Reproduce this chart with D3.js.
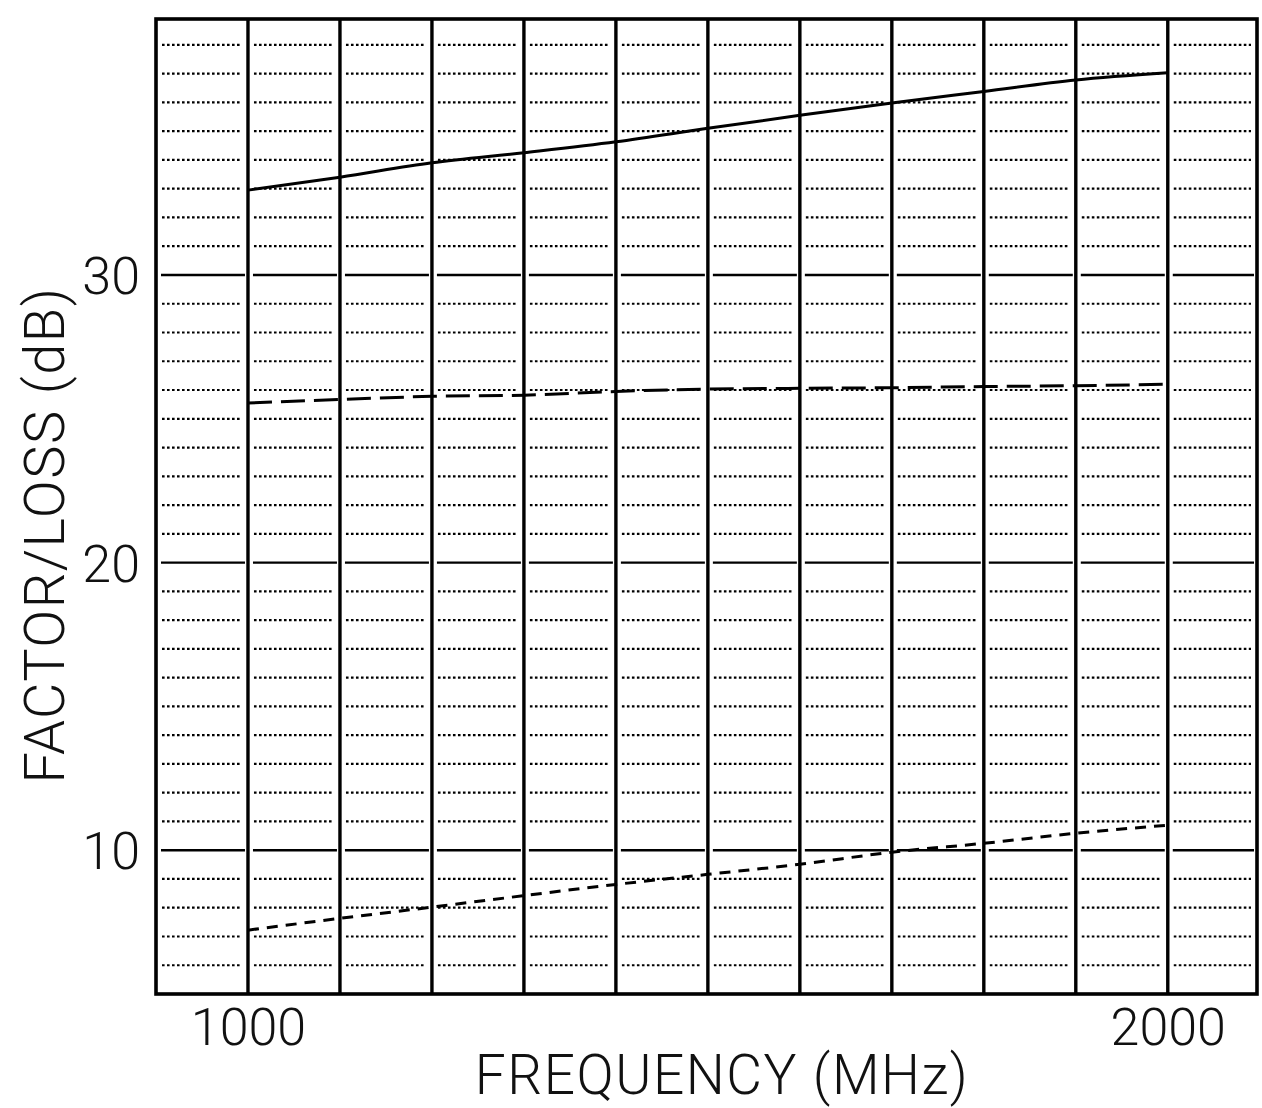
<!DOCTYPE html>
<html>
    <head>
        <meta charset="utf-8">
        <title>Factor / Loss vs Frequency</title>
        <script src="https://d3js.org/d3.v7.min.js"></script>
        <style>
            body { margin: 0; background: #fff; }
            text { font-family: Roboto, "Liberation Sans", Arial, sans-serif; font-weight: 300; fill: #111; }
        </style>
    </head>
    <body>
        <div id="chart">
            <script>
                // frequencies (MHz) of the vertical grid and of the curve samples
                var freqs = [1000, 1100, 1200, 1300, 1400, 1500, 1600, 1700, 1800, 1900, 2000]

                // curves (dB)
                var solidCurve = [32.95, 33.4, 33.9, 34.25, 34.63, 35.1, 35.55, 35.98, 36.38, 36.78, 37.03]
                var longDashCurve = [25.55, 25.67, 25.78, 25.82, 25.95, 26.03, 26.06, 26.08, 26.12, 26.15, 26.2]
                var shortDashCurve = [7.22, 7.63, 8.02, 8.42, 8.81, 9.16, 9.51, 9.93, 10.24, 10.59, 10.87]

                // horizontal grid (dB)
                var majorDb = [10, 20, 30]
                var minorDb = [6, 7, 8, 9, 11, 12, 13, 14, 15, 16, 17, 18, 19, 21, 22, 23, 24, 25, 26, 27, 28, 29,
                               31, 32, 33, 34, 35, 36, 37, 38]

                // tick labels
                var xTickValues = [1000, 2000]
                var yTickValues = [10, 20, 30]

                var margin = {top: 19, right: 5, bottom: 114, left: 156},
                    width = 1262 - margin.left - margin.right,
                    height = 1108 - margin.top - margin.bottom

                var svg = d3.select("#chart")
                .append("svg")
                    .attr("width", 1262)
                    .attr("height", 1108)
                .append("g")
                    .attr("transform", "translate(" + margin.left + "," + margin.top + ")")

                var x = d3.scaleLinear()
                    .domain([900, 2097])
                    .range([0, width])

                var y = d3.scaleLinear()
                    .domain([5, 38.9])
                    .range([height, 0])

                // cell edges so the horizontal lines are drawn one cell at a time, like the plotter did
                var edges = [x.domain()[0]].concat(freqs).concat([x.domain()[1]])
                var cells = d3.pairs(edges)

                function cellSegments(values) {
                    var segs = []
                    values.forEach(function (v) {
                        cells.forEach(function (c) { segs.push({v: v, a: c[0], b: c[1]}) })
                    })
                    return segs
                }

                // dotted 1 dB lines
                svg.append("g")
                    .selectAll("line")
                    .data(cellSegments(minorDb))
                    .join("line")
                        .attr("x1", function (d) { return x(d.a) + 6 })
                        .attr("x2", function (d) { return x(d.b) - 6 })
                        .attr("y1", function (d) { return y(d.v) })
                        .attr("y2", function (d) { return y(d.v) })
                        .style("stroke", "#000")
                        .style("stroke-width", 2.2)
                        .style("stroke-dasharray", "2.6,2.4")

                // solid 10 dB lines
                svg.append("g")
                    .selectAll("line")
                    .data(cellSegments(majorDb))
                    .join("line")
                        .attr("x1", function (d) { return x(d.a) + 5 })
                        .attr("x2", function (d) { return x(d.b) - 3 })
                        .attr("y1", function (d) { return y(d.v) })
                        .attr("y2", function (d) { return y(d.v) })
                        .style("stroke", "#000")
                        .style("stroke-width", 2.4)

                // vertical 100 MHz lines
                svg.append("g")
                    .selectAll("line")
                    .data(freqs)
                    .join("line")
                        .attr("x1", function (d) { return x(d) })
                        .attr("x2", function (d) { return x(d) })
                        .attr("y1", 0)
                        .attr("y2", height)
                        .style("stroke", "#000")
                        .style("stroke-width", 3.4)

                // frame
                svg.append("rect")
                    .attr("x", 0)
                    .attr("y", 0)
                    .attr("width", width)
                    .attr("height", height)
                    .style("fill", "none")
                    .style("stroke", "#000")
                    .style("stroke-width", 3.6)

                // curves
                var curves = [
                    {values: solidCurve, dash: null},
                    {values: longDashCurve, dash: "24,9"},
                    {values: shortDashCurve, dash: "11,8"}
                ]
                var line = d3.line()
                    .curve(d3.curveMonotoneX)
                    .x(function (d) { return x(d[0]) })
                    .y(function (d) { return y(d[1]) })

                curves.forEach(function (c) {
                    svg.append("path")
                        .datum(d3.zip(freqs, c.values))
                        .attr("d", line)
                        .style("fill", "none")
                        .style("stroke", "#000")
                        .style("stroke-width", 3)
                        .style("stroke-dasharray", c.dash)
                })

                // X axis labels
                var xAxis = svg.append("g")
                    .attr("transform", "translate(0," + height + ")")
                    .call(d3.axisBottom(x).tickValues(xTickValues).tickSize(0).tickPadding(0).tickFormat(d3.format("d")))
                xAxis.select(".domain").remove()
                xAxis.selectAll("text")
                    .attr("y", 51)
                    .attr("dy", null)
                    .style("font-size", "52px")
                    .style("font-family", null)

                // Y axis labels
                var yAxis = svg.append("g")
                    .call(d3.axisLeft(y).tickValues(yTickValues).tickSize(0).tickPadding(16))
                yAxis.select(".domain").remove()
                yAxis.selectAll("text")
                    .attr("dy", "0.36em")
                    .style("font-size", "52px")
                    .style("font-family", null)

                // axis titles
                svg.append("text")
                    .attr("x", 722 - margin.left)
                    .attr("y", 1094 - margin.top)
                    .style("text-anchor", "middle")
                    .style("font-size", "55px")
                    .style("letter-spacing", "1.5px")
                    .text("FREQUENCY (MHz)")

                svg.append("text")
                    .attr("transform", "translate(" + (64 - margin.left) + "," + (535 - margin.top) + ") rotate(-90)")
                    .style("text-anchor", "middle")
                    .style("font-size", "56px")
                    .style("letter-spacing", "1.5px")
                    .text("FACTOR/LOSS (dB)")
            </script>
        </div>
    </body>
</html>
